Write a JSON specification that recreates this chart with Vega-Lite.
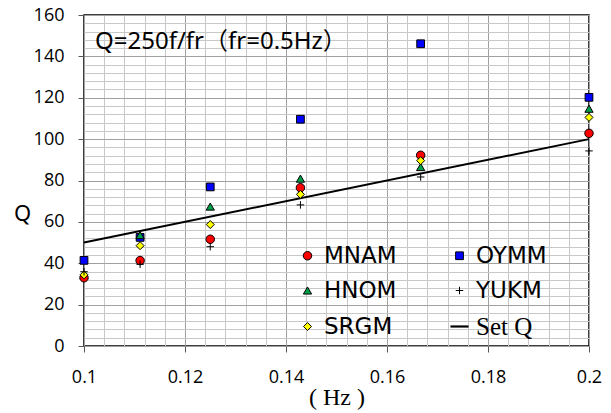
{
  "$schema": "https://vega.github.io/schema/vega-lite/v6.json",
  "width": 505,
  "height": 331,
  "autosize": {"type": "none"},
  "padding": {"left": 84, "top": 15, "right": 22, "bottom": 67},
  "background": "white",
  "config": {
    "view": {"stroke": "black", "strokeWidth": 1.5},
    "axis": {"labelColor": "black", "titleColor": "black", "labelFont": "Open Sans", "labelFontSize": 18, "tickColor": "#555555", "gridOpacity": 1}
  },
  "datasets": {
    "measured": [
      {"f": 0.1, "Q": 33.0, "series": "MNAM"},
      {"f": 0.11111, "Q": 41.3, "series": "MNAM"},
      {"f": 0.125, "Q": 51.6, "series": "MNAM"},
      {"f": 0.142857, "Q": 76.5, "series": "MNAM"},
      {"f": 0.166667, "Q": 92.2, "series": "MNAM"},
      {"f": 0.2, "Q": 102.8, "series": "MNAM"},
      {"f": 0.1, "Q": 41.4, "series": "OYMM"},
      {"f": 0.11111, "Q": 52.5, "series": "OYMM"},
      {"f": 0.125, "Q": 76.9, "series": "OYMM"},
      {"f": 0.142857, "Q": 109.6, "series": "OYMM"},
      {"f": 0.166667, "Q": 146.1, "series": "OYMM"},
      {"f": 0.2, "Q": 120.2, "series": "OYMM"},
      {"f": 0.11111, "Q": 53.6, "series": "HNOM"},
      {"f": 0.125, "Q": 67.4, "series": "HNOM"},
      {"f": 0.142857, "Q": 80.9, "series": "HNOM"},
      {"f": 0.166667, "Q": 86.5, "series": "HNOM"},
      {"f": 0.2, "Q": 114.7, "series": "HNOM"},
      {"f": 0.1, "Q": 34.4, "series": "SRGM"},
      {"f": 0.11111, "Q": 48.5, "series": "SRGM"},
      {"f": 0.125, "Q": 58.7, "series": "SRGM"},
      {"f": 0.142857, "Q": 73.3, "series": "SRGM"},
      {"f": 0.166667, "Q": 89.6, "series": "SRGM"},
      {"f": 0.2, "Q": 110.5, "series": "SRGM"},
      {"f": 0.1, "Q": 35.9, "series": "YUKM"},
      {"f": 0.11111, "Q": 39.5, "series": "YUKM"},
      {"f": 0.125, "Q": 48.0, "series": "YUKM"},
      {"f": 0.142857, "Q": 68.2, "series": "YUKM"},
      {"f": 0.166667, "Q": 81.7, "series": "YUKM"},
      {"f": 0.2, "Q": 94.3, "series": "YUKM"}
    ],
    "setq": [
      {"f": 0.1, "Q": 50},
      {"f": 0.2, "Q": 100}
    ],
    "note": [
      {"f": 0.1, "Q": 147, "text": "Q=250f/fr（fr=0.5Hz）"}
    ]
  },
  "resolve": {"axis": {"x": "independent", "y": "independent"}},
  "layer": [
    {
      "data": {"name": "setq"},
      "mark": {"type": "line", "color": "black", "strokeWidth": 2},
      "encoding": {
        "x": {
          "field": "f", "type": "quantitative",
          "scale": {"domain": [0.1, 0.2], "nice": false, "zero": false},
          "axis": {
            "orient": "bottom",
            "values": [0.1, 0.104, 0.108, 0.112, 0.116, 0.12, 0.124, 0.128, 0.132, 0.136, 0.14, 0.144, 0.148, 0.152, 0.156, 0.16, 0.164, 0.168, 0.172, 0.176, 0.18, 0.184, 0.188, 0.192, 0.196, 0.2],
            "grid": true, "gridColor": "#c8c8c8", "gridWidth": 1,
            "labels": false, "ticks": false, "domain": false, "title": null
          }
        },
        "y": {
          "field": "Q", "type": "quantitative",
          "scale": {"domain": [0, 160], "nice": false},
          "axis": {
            "orient": "left",
            "values": [0, 4, 8, 12, 16, 20, 24, 28, 32, 36, 40, 44, 48, 52, 56, 60, 64, 68, 72, 76, 80, 84, 88, 92, 96, 100, 104, 108, 112, 116, 120, 124, 128, 132, 136, 140, 144, 148, 152, 156, 160],
            "grid": true, "gridColor": "#c8c8c8", "gridWidth": 1,
            "labels": false, "ticks": false, "domain": false, "title": null
          }
        }
      }
    },
    {
      "data": {"name": "measured"},
      "mark": {"type": "point", "filled": true, "strokeWidth": 1, "opacity": 1},
      "encoding": {
        "x": {
          "field": "f", "type": "quantitative",
          "axis": {
            "orient": "bottom",
            "values": [0.1, 0.12, 0.14, 0.16, 0.18, 0.2],
            "format": "~g", "labelFlush": false,
            "grid": true, "gridColor": "#a0a0a0", "gridWidth": 1,
            "domain": false, "tickSize": 6, "labelPadding": 16,
            "title": "( Hz )", "titleFont": "Liberation Serif", "titleFontSize": 24, "titleFontWeight": "normal",
            "titleBaseline": "middle", "titleY": 51
          }
        },
        "y": {
          "field": "Q", "type": "quantitative",
          "axis": {
            "orient": "left",
            "values": [0, 20, 40, 60, 80, 100, 120, 140, 160],
            "labelFlush": false,
            "grid": true, "gridColor": "#a0a0a0", "gridWidth": 1,
            "domain": false, "tickSize": 6, "labelPadding": 14,
            "title": "Q", "titleFont": "Noto Sans", "titleFontSize": 22, "titleFontWeight": "normal",
            "titleAngle": 0, "titleAlign": "center", "titleBaseline": "middle", "titleX": -62, "titleY": 198
          }
        },
        "shape": {
          "field": "series", "type": "nominal",
          "scale": {
            "domain": ["MNAM", "HNOM", "SRGM", "OYMM", "YUKM", "Set Q"],
            "range": ["circle", "triangle-up", "diamond", "square", "M-1,0L1,0M0,-1L0,1", "M-2.5,0L2.5,0"]
          },
          "legend": {
            "orient": "none", "legendX": 212, "legendY": 229, "columns": 2, "title": null,
            "padding": 0, "columnPadding": 49, "rowPadding": 11, "labelOffset": 5,
            "labelFont": {"expr": "datum.label === 'Set Q' ? 'Liberation Serif' : 'DejaVu Sans'"},
            "labelFontSize": {"expr": "datum.label === 'Set Q' ? 25 : 23"},
            "labelColor": "black", "labelLimit": 200,
            "symbolStrokeWidth": {"expr": "datum.value === 'Set Q' ? 2.2 : 1"}
          }
        },
        "fill": {
          "field": "series", "type": "nominal",
          "scale": {
            "domain": ["MNAM", "HNOM", "SRGM", "OYMM", "YUKM", "Set Q"],
            "range": ["#ff0000", "#00a04a", "#ffff00", "#0000ff", "transparent", "transparent"]
          }
        },
        "size": {
          "field": "series", "type": "nominal",
          "scale": {
            "domain": ["MNAM", "HNOM", "SRGM", "OYMM", "YUKM", "Set Q"],
            "range": [72, 52, 42, 100, 169, 100]
          }
        },
        "stroke": {"value": "black"}
      }
    },
    {
      "data": {"name": "note"},
      "mark": {"type": "text", "font": "Noto Sans, Noto Sans CJK JP", "fontSize": 24, "align": "left", "baseline": "middle", "dx": 11, "color": "black"},
      "encoding": {
        "x": {"field": "f", "type": "quantitative", "axis": null},
        "y": {"field": "Q", "type": "quantitative", "axis": null},
        "text": {"field": "text"}
      }
    }
  ]
}
